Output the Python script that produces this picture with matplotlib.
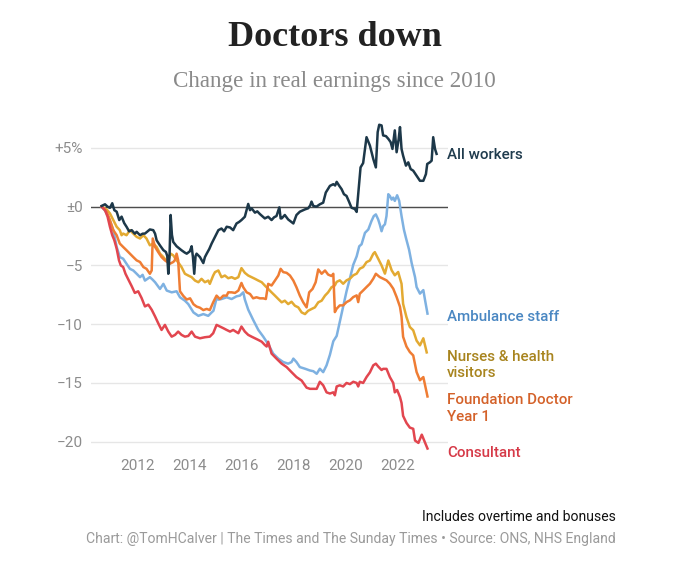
import matplotlib
matplotlib.use("Agg")
import matplotlib.pyplot as plt

# real earnings change since 2010, %
all_x = [2010.60, 2010.73, 2010.83, 2010.92, 2011.01, 2011.09, 2011.18, 2011.28, 2011.37, 2011.47,
         2011.56, 2011.66, 2011.76, 2011.88, 2011.95, 2012.08, 2012.18, 2012.27, 2012.37, 2012.46,
         2012.59, 2012.66, 2012.72, 2012.85, 2012.98, 2013.08, 2013.13, 2013.17, 2013.22, 2013.26,
         2013.31, 2013.36, 2013.49, 2013.68, 2013.80, 2013.88, 2014.00, 2014.07, 2014.12, 2014.17,
         2014.22, 2014.26, 2014.39, 2014.52, 2014.58, 2014.65, 2014.75, 2014.84, 2014.97, 2015.10,
         2015.22, 2015.32, 2015.42, 2015.55, 2015.67, 2015.80, 2015.90, 2015.99, 2016.12, 2016.25,
         2016.32, 2016.38, 2016.51, 2016.60, 2016.70, 2016.89, 2017.02, 2017.15, 2017.25, 2017.34,
         2017.45, 2017.50, 2017.54, 2017.66, 2017.79, 2017.99, 2018.11, 2018.24, 2018.44, 2018.56,
         2018.64, 2018.69, 2018.76, 2018.88, 2019.01, 2019.14, 2019.24, 2019.40, 2019.53, 2019.60,
         2019.66, 2019.76, 2019.85, 2019.94, 2020.04, 2020.14, 2020.23, 2020.36, 2020.43, 2020.53,
         2020.58, 2020.68, 2020.81, 2020.94, 2021.07, 2021.17, 2021.24, 2021.30, 2021.39, 2021.45,
         2021.56, 2021.65, 2021.74, 2021.81, 2021.90, 2021.97, 2022.05, 2022.10, 2022.16, 2022.22,
         2022.33, 2022.42, 2022.51, 2022.61, 2022.74, 2022.87, 2023.00, 2023.10, 2023.15, 2023.25,
         2023.32, 2023.38, 2023.45, 2023.51]
all_y = [0.06, 0.2, 0.0, -0.1, 0.29, -0.3, -0.43, -1.14, -0.85, -1.4,
         -1.71, -2.1, -2.0, -2.3, -2.14, -2.43, -2.3, -2.29, -2.1, -1.94,
         -2.0, -2.3, -2.86, -3.3, -3.7, -3.86, -4.2, -5.71, -4.0, -0.71,
         -2.4, -3.0, -3.37, -3.71, -3.9, -4.0, -3.8, -3.37, -4.3, -5.71,
         -4.2, -4.0, -4.29, -4.8, -4.3, -4.0, -3.6, -3.14, -2.57, -2.0,
         -1.86, -2.1, -1.71, -1.77, -2.0, -1.43, -1.3, -1.14, -0.86, 0.23,
         -0.3, -0.14, -0.51, -0.4, -0.63, -1.0, -0.86, -1.14, -0.9, -0.8,
         -0.06, -1.0, -1.0, -0.71, -1.09, -1.43, -0.71, -0.43, -0.23, -0.14,
         0.1, 0.43, 0.06, 0.0, 0.2, 0.34, 1.2, 1.77, 1.91, 1.8,
         2.11, 1.77, 1.49, 1.06, 0.91, 0.4, -0.09, -0.2, -0.45, 2.06,
         3.34, 3.71, 5.91, 5.2, 4.06, 3.34, 6.34, 6.97, 6.91, 6.06,
         6.0, 5.77, 5.49, 4.91, 6.49, 4.63, 5.77, 6.77, 4.91, 4.34,
         3.49, 3.77, 3.2, 3.06, 2.63, 2.2, 2.2, 2.77, 3.63, 3.77,
         3.91, 5.91, 4.91, 4.49]

amb_x = [2010.60, 2010.75, 2010.86, 2011.05, 2011.18, 2011.30, 2011.43, 2011.56, 2011.69, 2011.82,
         2011.95, 2012.08, 2012.18, 2012.27, 2012.46, 2012.56, 2012.66, 2012.85, 2012.98, 2013.11,
         2013.30, 2013.49, 2013.62, 2013.81, 2013.94, 2014.14, 2014.33, 2014.52, 2014.71, 2014.84,
         2014.91, 2015.04, 2015.10, 2015.22, 2015.42, 2015.61, 2015.80, 2015.93, 2016.06, 2016.12,
         2016.25, 2016.44, 2016.64, 2016.83, 2017.02, 2017.21, 2017.41, 2017.60, 2017.79, 2017.92,
         2017.99, 2018.11, 2018.24, 2018.44, 2018.63, 2018.76, 2018.89, 2019.01, 2019.14, 2019.27,
         2019.40, 2019.53, 2019.66, 2019.78, 2019.91, 2020.04, 2020.17, 2020.30, 2020.43, 2020.53,
         2020.62, 2020.75, 2020.88, 2021.00, 2021.09, 2021.17, 2021.26, 2021.32, 2021.39, 2021.45,
         2021.52, 2021.58, 2021.65, 2021.71, 2021.78, 2021.84, 2021.90, 2021.99, 2022.07, 2022.16,
         2022.25, 2022.33, 2022.45, 2022.55, 2022.68, 2022.74, 2022.87, 2023.00, 2023.07, 2023.16]
amb_y = [0.0, -0.4, -0.86, -2.0, -3.43, -4.29, -4.43, -4.86, -5.29, -5.43,
         -5.71, -6.0, -5.8, -6.29, -6.0, -6.2, -6.43, -7.0, -6.57, -7.14,
         -7.29, -7.2, -7.71, -8.0, -8.29, -9.0, -9.29, -9.14, -9.29, -9.0,
         -8.86, -7.71, -7.91, -7.86, -7.71, -7.86, -7.63, -7.57, -7.29, -7.9,
         -8.76, -9.63, -10.49, -11.06, -11.7, -12.5, -12.93, -13.22, -13.36, -13.22,
         -12.93, -13.22, -13.65, -13.79, -13.94, -14.0, -14.22, -13.79, -14.08, -13.5,
         -12.6, -11.45, -11.0, -9.8, -8.5, -7.2, -6.1, -4.94, -4.23, -3.37,
         -3.2, -2.23, -1.94, -1.23, -0.8, -0.66, -1.09, -1.51, -2.09, -1.66,
         -1.5, -0.8, 1.06, 0.91, 0.6, 0.77, 0.49, 0.97, 0.49, -0.8,
         -1.94, -2.66, -3.66, -4.8, -6.0, -6.84, -7.4, -7.1, -8.0, -9.1]

nur_x = [2010.60, 2010.79, 2010.92, 2011.05, 2011.18, 2011.30, 2011.37, 2011.43, 2011.56, 2011.69,
         2011.82, 2011.95, 2012.08, 2012.21, 2012.33, 2012.46, 2012.59, 2012.72, 2012.85, 2012.98,
         2013.08, 2013.17, 2013.26, 2013.36, 2013.49, 2013.59, 2013.68, 2013.81, 2013.94, 2014.07,
         2014.20, 2014.33, 2014.45, 2014.58, 2014.71, 2014.77, 2014.90, 2014.97, 2015.10, 2015.22,
         2015.35, 2015.48, 2015.61, 2015.74, 2015.87, 2015.99, 2016.12, 2016.25, 2016.38, 2016.51,
         2016.64, 2016.77, 2016.89, 2017.02, 2017.15, 2017.28, 2017.41, 2017.54, 2017.66, 2017.79,
         2017.92, 2018.05, 2018.18, 2018.31, 2018.44, 2018.56, 2018.69, 2018.82, 2018.95, 2019.08,
         2019.21, 2019.33, 2019.46, 2019.59, 2019.66, 2019.78, 2019.91, 2020.04, 2020.17, 2020.30,
         2020.43, 2020.55, 2020.68, 2020.81, 2020.94, 2021.07, 2021.13, 2021.26, 2021.39, 2021.52,
         2021.65, 2021.78, 2021.90, 2022.03, 2022.16, 2022.22, 2022.35, 2022.48, 2022.61, 2022.74,
         2022.87, 2023.00, 2023.13]
nur_y = [0.0, -0.23, -0.57, -1.14, -1.71, -2.0, -2.43, -2.29, -2.43, -2.0,
         -2.29, -2.57, -2.71, -2.43, -2.71, -3.29, -3.14, -3.43, -4.0, -4.29,
         -4.57, -4.57, -4.0, -4.14, -4.57, -4.86, -5.14, -5.71, -5.86, -6.0,
         -6.29, -6.43, -6.14, -6.43, -6.29, -6.57, -5.86, -5.57, -5.43, -6.0,
         -5.86, -6.09, -6.0, -6.14, -6.0, -5.23, -5.63, -5.86, -6.0, -6.14,
         -6.29, -6.43, -6.71, -7.0, -7.29, -7.57, -7.86, -8.14, -8.0, -8.29,
         -8.09, -8.43, -8.57, -9.0, -9.14, -8.86, -8.71, -8.57, -8.14, -8.0,
         -7.57, -7.29, -6.86, -6.7, -6.4, -6.27, -6.56, -6.27, -6.13, -5.84,
         -5.7, -5.28, -5.14, -4.72, -4.58, -4.01, -3.87, -4.43, -5.0, -5.7,
         -4.58, -5.42, -5.84, -5.56, -6.56, -8.27, -9.4, -10.24, -10.52, -11.4,
         -11.8, -11.2, -12.4]

fy1_x = [2010.60, 2010.79, 2010.92, 2011.05, 2011.18, 2011.30, 2011.43, 2011.56, 2011.69, 2011.82,
         2011.95, 2012.08, 2012.21, 2012.33, 2012.46, 2012.53, 2012.57, 2012.66, 2012.78, 2012.91,
         2013.04, 2013.13, 2013.23, 2013.36, 2013.42, 2013.49, 2013.55, 2013.62, 2013.75, 2013.88,
         2014.01, 2014.14, 2014.26, 2014.39, 2014.52, 2014.65, 2014.77, 2014.90, 2015.03, 2015.16,
         2015.29, 2015.42, 2015.48, 2015.61, 2015.74, 2015.87, 2015.99, 2016.06, 2016.19, 2016.32,
         2016.44, 2016.57, 2016.70, 2016.83, 2016.93, 2017.02, 2017.15, 2017.28, 2017.41, 2017.50,
         2017.60, 2017.73, 2017.86, 2017.99, 2018.11, 2018.24, 2018.37, 2018.50, 2018.60, 2018.73,
         2018.85, 2018.95, 2019.08, 2019.21, 2019.33, 2019.46, 2019.53, 2019.59, 2019.66, 2019.78,
         2019.91, 2020.04, 2020.17, 2020.30, 2020.43, 2020.49, 2020.55, 2020.68, 2020.81, 2020.94,
         2021.07, 2021.17, 2021.32, 2021.45, 2021.58, 2021.71, 2021.84, 2021.97, 2022.10, 2022.16,
         2022.22, 2022.35, 2022.48, 2022.61, 2022.74, 2022.87, 2023.00, 2023.16]
fy1_y = [0.0, -0.43, -1.14, -2.0, -2.43, -3.14, -3.43, -3.71, -4.0, -4.29,
         -4.57, -4.71, -5.14, -5.29, -5.71, -5.43, -2.71, -3.43, -3.86, -4.29,
         -4.57, -4.71, -4.86, -4.71, -4.57, -4.0, -4.57, -7.2, -7.6, -7.9,
         -7.8, -8.3, -8.5, -8.6, -8.8, -8.7, -8.8, -8.14, -7.57, -7.86,
         -7.57, -7.57, -7.29, -7.29, -7.34, -7.14, -6.49, -6.86, -7.29, -7.43,
         -7.8, -7.71, -7.8, -7.8, -7.86, -6.57, -6.71, -6.29, -5.86, -5.29,
         -5.57, -5.63, -5.86, -6.29, -6.86, -7.57, -8.14, -8.57, -7.29, -7.0,
         -6.43, -5.34, -5.71, -5.43, -5.78, -5.9, -5.71, -8.97, -8.68, -8.4,
         -8.4, -8.12, -7.97, -7.69, -7.55, -8.12, -7.41, -7.13, -6.84, -6.56,
         -6.13, -5.71, -5.99, -6.13, -6.27, -6.56, -6.98, -7.69, -8.52, -9.37,
         -11.07, -11.9, -12.37, -12.66, -14.07, -14.77, -14.5, -16.15]

con_x = [2010.60, 2010.73, 2010.83, 2010.92, 2011.01, 2011.09, 2011.18, 2011.27, 2011.34, 2011.43,
         2011.52, 2011.63, 2011.76, 2011.88, 2012.01, 2012.14, 2012.27, 2012.40, 2012.53, 2012.66,
         2012.78, 2012.91, 2013.04, 2013.17, 2013.30, 2013.43, 2013.55, 2013.68, 2013.81, 2013.94,
         2014.07, 2014.20, 2014.39, 2014.58, 2014.77, 2014.90, 2015.03, 2015.16, 2015.29, 2015.42,
         2015.55, 2015.67, 2015.87, 2015.99, 2016.12, 2016.25, 2016.38, 2016.51, 2016.64, 2016.77,
         2016.89, 2016.96, 2017.02, 2017.15, 2017.34, 2017.54, 2017.73, 2017.92, 2018.11, 2018.31,
         2018.50, 2018.63, 2018.89, 2019.01, 2019.14, 2019.27, 2019.40, 2019.53, 2019.59, 2019.66,
         2019.78, 2019.91, 2020.04, 2020.17, 2020.30, 2020.43, 2020.49, 2020.55, 2020.68, 2020.81,
         2020.94, 2021.07, 2021.17, 2021.26, 2021.39, 2021.45, 2021.58, 2021.71, 2021.84, 2021.90,
         2021.99, 2022.10, 2022.16, 2022.22, 2022.35, 2022.48, 2022.61, 2022.68, 2022.81, 2022.94,
         2023.07, 2023.16]
con_y = [0.0, -0.29, -0.86, -1.71, -2.43, -2.86, -3.57, -4.57, -5.0, -5.14,
         -5.71, -6.2, -6.77, -7.34, -7.2, -7.77, -8.49, -8.34, -8.77, -9.34,
         -9.91, -10.49, -10.06, -10.63, -11.06, -10.91, -10.63, -10.91, -11.06, -11.0,
         -10.63, -11.06, -11.2, -11.11, -11.06, -10.77, -10.06, -10.2, -10.34, -10.49,
         -10.63, -10.49, -10.77, -10.2, -10.63, -10.91, -11.06, -11.2, -11.34, -11.49,
         -11.77, -11.9, -11.49, -12.5, -12.93, -13.36, -13.65, -14.08, -14.5, -14.8,
         -15.4, -15.5, -15.5, -14.9, -15.2, -15.8, -15.9, -15.8, -16.05, -15.3,
         -15.2, -15.3, -15.0, -15.1, -14.9, -15.0, -15.3, -14.9, -15.0, -14.5,
         -14.1, -13.5, -13.36, -13.6, -13.9, -13.8, -13.8, -14.5, -15.0, -15.8,
         -15.6, -16.2, -16.7, -17.8, -18.4, -18.8, -18.9, -19.9, -20.1, -19.4,
         -20.1, -20.58]

labels = ["All workers", "Ambulance staff", "Nurses & health\nvisitors",
          "Foundation Doctor\nYear 1", "Consultant"]
label_y = [4.4, -9.36, -13.46, -17.16, -20.94]

yticks = [5, 0, -5, -10, -15, -20]
ytick_labels = ["+5%", "±0", "\u22125", "\u221210", "\u221215", "\u221220"]
xticks = [2012, 2014, 2016, 2018, 2020, 2022]

line_cols = ["#1d3849", "#7eb1e1", "#e3aa32", "#ef7d34", "#e2464f"]
text_cols = ["#1f3b4d", "#4a87c2", "#a8841e", "#d4622a", "#d63a48"]

plt.rcParams['font.family'] = ['Roboto', 'DejaVu Sans']

fig = plt.figure(figsize=(6.8, 5.68), dpi=100)
ax = fig.add_axes([0.1338, 0.2037, 0.525, 0.5856])

series = [(all_x, all_y), (amb_x, amb_y), (nur_x, nur_y), (fy1_x, fy1_y), (con_x, con_y)]
order = [1, 2, 3, 4, 0]
for i in order:
    xs, ys = series[i]
    ax.plot(xs, ys, color=line_cols[i], lw=1.8, solid_joinstyle='round', zorder=3 + (i == 0))

ax.axhline(0, color='#4d4d4d', lw=1, zorder=2)
ax.set_xlim(2010.19, 2023.95)
ax.set_ylim(-20.9, 7.4)
ax.set_yticks(yticks)
ax.set_yticklabels(ytick_labels)
ax.set_xticks(xticks)
ax.grid(axis='y', color='#e6e6e6', lw=1, zorder=1)
ax.tick_params(length=0, colors='#8c8c8c', labelsize=11)
ax.tick_params(axis='y', pad=5.8)
ax.tick_params(axis='x', pad=5)
for s in ax.spines.values():
    s.set_visible(False)

for lab, ly, c in zip(labels, label_y, text_cols):
    ax.text(2023.92, ly, lab, color=c, fontsize=10.9, fontweight='medium', va='center',
            ha='left', linespacing=1.22, clip_on=False)

fig.text(0.492, 1 - 37 / 568, "Doctors down", family='Liberation Serif', fontweight='bold',
         fontsize=26, color='#222222', ha='center', va='center')
fig.text(0.491, 1 - 81 / 568, "Change in real earnings since 2010", family='Liberation Serif',
         fontsize=16.6, color='#8a8a8a', ha='center', va='center')
fig.text(616 / 680, 1 - 517 / 568, "Includes overtime and bonuses", fontsize=10.1,
         color='#111111', ha='right', va='center')
fig.text(616 / 680, 1 - 539 / 568,
         "Chart: @TomHCalver | The Times and The Sunday Times \u2022 Source: ONS, NHS England",
         fontsize=10.1, color='#9a9a9a', ha='right', va='center')

fig.savefig("out.png", dpi=100, facecolor='white')
